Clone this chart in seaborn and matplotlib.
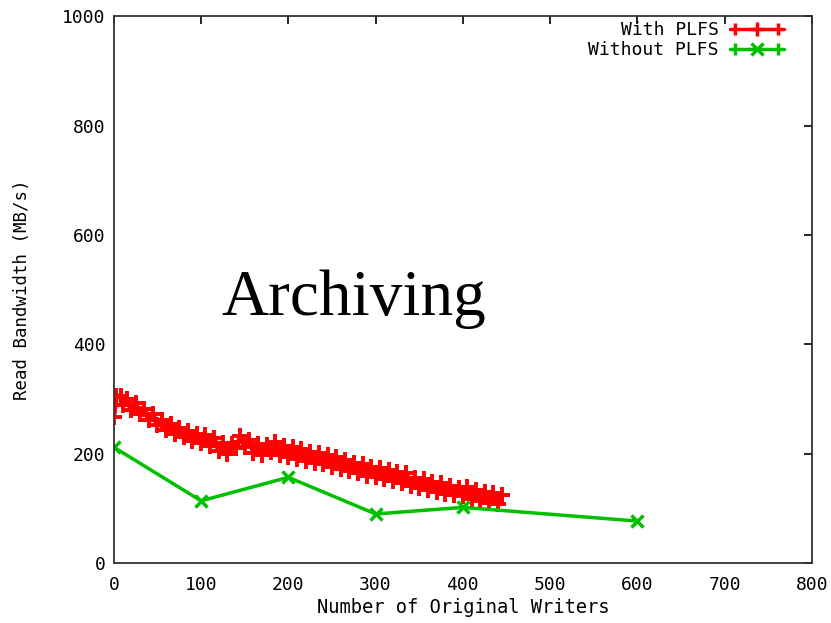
import matplotlib
matplotlib.use("Agg")
import matplotlib.pyplot as plt
from matplotlib.lines import Line2D
from matplotlib.legend_handler import HandlerLine2D, HandlerTuple
import numpy as np
import pandas as pd
import seaborn as sns

# With PLFS: dense sweep of writer counts
plfs_writers = [0, 3, 8, 10, 15, 20, 25, 30, 35, 40, 45, 50, 55, 60, 65, 70, 75, 80, 85, 90,
                95, 100, 105, 110, 115, 120, 125, 130, 135, 140, 145, 150, 155, 160, 165, 170,
                175, 180, 185, 190, 195, 200, 205, 210, 215, 220, 225, 230, 235, 240, 245, 250,
                255, 260, 265, 270, 275, 280, 285, 290, 295, 300, 305, 310, 315, 320, 325, 330,
                335, 340, 345, 350, 355, 360, 365, 370, 375, 380, 385, 390, 395, 400, 405, 410,
                415, 420, 425, 430, 435, 440, 445]
plfs_bw = [268, 305, 306, 290, 300, 280, 292, 272, 282, 262, 272, 252, 262, 244, 254, 236, 248,
           230, 242, 224, 236, 220, 234, 214, 228, 206, 220, 200, 218, 210, 232, 212, 226, 202,
           218, 198, 216, 204, 222, 198, 214, 194, 212, 190, 208, 186, 204, 184, 202, 182, 198,
           176, 194, 172, 188, 168, 184, 164, 182, 160, 176, 158, 174, 154, 170, 150, 166, 146,
           164, 142, 156, 138, 154, 134, 148, 130, 146, 126, 142, 124, 138, 122, 140, 118, 134,
           114, 130, 110, 128, 108, 124]

# Without PLFS
raw_writers = [0, 100, 200, 300, 400, 600]
raw_bw = [212, 114, 157, 90, 102, 77]

RED = "#ff0000"
GREEN = "#00c000"

sns.set_style("white")
plt.rcParams["font.family"] = ["DejaVu Sans Mono", "DejaVu Sans"]
plt.rcParams["text.color"] = "black"
plt.rcParams["axes.labelcolor"] = "black"
plt.rcParams["xtick.color"] = "black"
plt.rcParams["ytick.color"] = "black"

fig, ax = plt.subplots(figsize=(8.31, 6.23), dpi=100)
fig.subplots_adjust(left=0.137, right=0.977, bottom=0.096, top=0.974)

df_plfs = pd.DataFrame({"writers": plfs_writers, "bw": plfs_bw})
df_raw = pd.DataFrame({"writers": raw_writers, "bw": raw_bw})

sns.lineplot(data=df_plfs, x="writers", y="bw", ax=ax, color=RED, lw=3.5,
             marker="+", markersize=11, markeredgewidth=2.8, markeredgecolor=RED)
sns.lineplot(data=df_raw, x="writers", y="bw", ax=ax, color=GREEN, lw=2.5,
             marker="x", markersize=8, markeredgewidth=2.5, markeredgecolor=GREEN)

ax.set_xlim(0, 800)
ax.set_ylim(0, 1000)
ax.set_xticks(range(0, 801, 100))
ax.set_yticks(range(0, 1001, 200))
ax.tick_params(direction="in", length=6, width=1.2, top=True, right=True,
               labelsize=13)
ax.tick_params(axis="x", pad=9)
ax.tick_params(axis="y", pad=6)
for s in ax.spines.values():
    s.set_color("#333333")
    s.set_linewidth(1.3)

ax.set_xlabel("Number of Original Writers", fontsize=13.5, labelpad=3)
ax.set_ylabel("Read Bandwidth (MB/s)", fontsize=12.5, labelpad=22)

ax.text(275, 453, "Archiving", family="Liberation Serif", fontsize=47,
        color="black", ha="center", va="baseline")

# legend samples: line + end caps + centre marker
handles = []
hmap = {}
for col, mk, ms in [(RED, "+", 10), (GREEN, "x", 8)]:
    ln = Line2D([], [], color=col, lw=2.5)
    caps = Line2D([], [], color=col, lw=0, marker="|", markersize=9, markeredgewidth=2.5)
    mid = Line2D([], [], color=col, lw=0, marker=mk, markersize=ms, markeredgewidth=2.5)
    hmap[caps] = HandlerLine2D(numpoints=2)
    hmap[mid] = HandlerLine2D(numpoints=1)
    handles.append((ln, caps, mid))
hmap[tuple] = HandlerTuple(ndivide=1, pad=0)
leg = ax.legend(handles, ["With PLFS", "Without PLFS"], handler_map=hmap,
                loc="upper right", bbox_to_anchor=(0.970, 1.004), frameon=False,
                markerfirst=False, fontsize=13, handlelength=3.0, handletextpad=0.6,
                labelspacing=0.1, borderaxespad=0)
for t in leg.get_texts():
    t.set_ha("right")

fig.savefig("out.png", dpi=100)
